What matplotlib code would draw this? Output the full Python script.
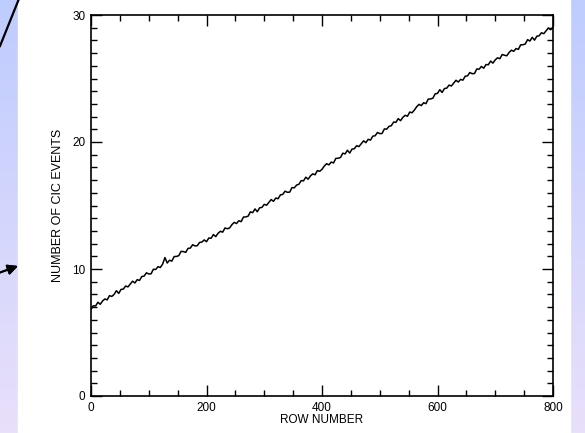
import numpy as np
import matplotlib
matplotlib.use("Agg")
import matplotlib.pyplot as plt
from matplotlib.ticker import MultipleLocator
from matplotlib.lines import Line2D

# ---- data ----
row_step = 4
cic_events = [
    6.82, 7.11, 7.09, 7.38, 7.22, 7.48, 7.64, 7.57, 7.90, 7.84,
    8.00, 8.29, 8.08, 8.39, 8.42, 8.66, 8.59, 8.81, 9.04, 8.90,
    9.16, 9.10, 9.41, 9.44, 9.70, 9.61, 9.62, 9.98, 9.96, 10.18,
    10.12, 10.38, 10.90, 10.47, 10.69, 10.62, 10.98, 10.99, 11.05, 11.39,
    11.37, 11.31, 11.62, 11.65, 11.91, 11.82, 11.83, 12.09, 12.12, 12.29,
    12.15, 12.44, 12.42, 12.71, 12.55, 12.81, 12.97, 12.90, 13.23, 13.17,
    13.23, 13.49, 13.67, 13.58, 13.80, 13.73, 14.09, 14.10, 14.16, 14.50,
    14.44, 14.73, 14.51, 14.82, 14.85, 15.09, 15.02, 15.24, 15.47, 15.33,
    15.59, 15.53, 15.84, 15.87, 16.13, 16.04, 16.05, 16.41, 16.39, 16.61,
    16.67, 16.96, 16.94, 17.23, 17.07, 17.33, 17.49, 17.42, 17.75, 17.69,
    17.85, 18.11, 18.29, 18.20, 18.42, 18.35, 18.71, 18.72, 18.78, 19.12,
    19.06, 19.35, 19.13, 19.44, 19.47, 19.71, 19.64, 19.86, 20.09, 19.95,
    20.21, 20.15, 20.46, 20.49, 20.75, 20.66, 20.67, 21.03, 21.01, 21.23,
    21.28, 21.57, 21.55, 21.84, 21.68, 21.94, 22.10, 22.03, 22.36, 22.30,
    22.52, 22.78, 22.96, 22.87, 23.09, 23.02, 23.38, 23.39, 23.45, 23.79,
    23.83, 24.12, 23.90, 24.21, 24.24, 24.48, 24.41, 24.63, 24.86, 24.72,
    24.93, 24.87, 25.18, 25.21, 25.47, 25.38, 25.39, 25.75, 25.73, 25.95,
    25.81, 26.10, 26.08, 26.37, 26.21, 26.47, 26.63, 26.56, 26.89, 26.83,
    26.79, 27.05, 27.23, 27.14, 27.36, 27.29, 27.65, 27.66, 27.72, 28.06,
    27.95, 28.24, 28.02, 28.33, 28.36, 28.60, 28.53, 28.75, 28.98, 28.84,
    29.05,
]
row_number = [i * row_step for i in range(len(cic_events))]
x_ticks = [0, 200, 400, 600, 800]
y_ticks = [0, 10, 20, 30]
x_label = "ROW NUMBER"
y_label = "NUMBER OF CIC EVENTS"

W, H = 585, 433
fig = plt.figure(figsize=(W / 100, H / 100), dpi=100)

# background gradient
bg = fig.add_axes([0, 0, 1, 1])
top = np.array([190, 204, 255]) / 255
bot = np.array([233, 224, 250]) / 255
t = np.linspace(0, 1, 256)[:, None]
grad = (top[None, :] * (1 - t) + bot[None, :] * t)[:, None, :]
bg.imshow(grad, aspect="auto", extent=[0, 1, 0, 1], origin="upper")
bg.add_patch(plt.Rectangle((18 / W, 0), (570 - 18) / W, 1, color="white",
                           transform=bg.transAxes))
bg.set_xlim(0, 1)
bg.set_ylim(0, 1)
bg.axis("off")

# decorative line and arrow at left edge
fig.add_artist(Line2D([18.5 / W, 0], [1, 1 - 46 / H], color="black", lw=1.6,
                      transform=fig.transFigure))
fig.add_artist(plt.annotate("", xy=(18 / W, 1 - 266 / H), xytext=(0, 1 - 272.5 / H),
                            xycoords="figure fraction", textcoords="figure fraction",
                            arrowprops=dict(arrowstyle="-|>", color="black", lw=1.4,
                                            mutation_scale=15, shrinkA=0, shrinkB=0)))

ax = fig.add_axes([91 / W, (H - 396) / H, 462 / W, 381 / H])
ax.plot(row_number, cic_events, color="black", lw=1.1)
ax.set_xlim(0, 800)
ax.set_ylim(0, 30)
ax.set_xticks(x_ticks)
ax.set_yticks(y_ticks)
ax.xaxis.set_minor_locator(MultipleLocator(50))
ax.yaxis.set_minor_locator(MultipleLocator(1))
ax.tick_params(which="both", direction="in", top=True, right=True,
               labelsize=8.5, colors="black", width=1.0)
ax.tick_params(which="major", length=8, pad=4)
ax.tick_params(which="minor", length=4)
for s in ax.spines.values():
    s.set_linewidth(1.2)
for lab in ax.get_xticklabels() + ax.get_yticklabels():
    lab.set_family("Liberation Sans")
ax.set_xlabel(x_label, fontsize=8.5, family="Liberation Sans", labelpad=0)
ax.set_ylabel(y_label, fontsize=9, family="Liberation Sans", labelpad=6)
ax.set_facecolor("white")

fig.savefig("out.png", dpi=100)
